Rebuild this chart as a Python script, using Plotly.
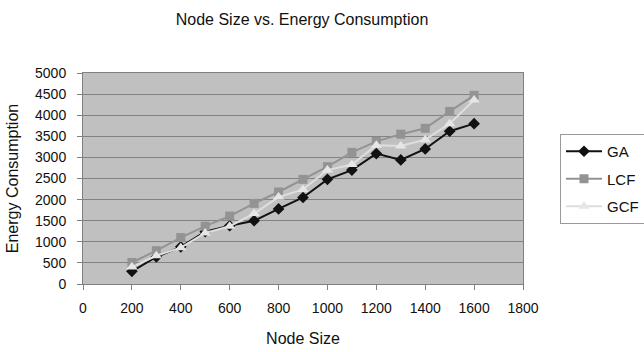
import plotly.graph_objects as go

node_size = [200, 300, 400, 500, 600, 700, 800, 900, 1000, 1100, 1200, 1300, 1400, 1500, 1600]
ga  = [300, 640, 880, 1240, 1380, 1500, 1780, 2050, 2480, 2700, 3090, 2940, 3200, 3620, 3800]
lcf = [510, 790, 1100, 1370, 1610, 1910, 2180, 2480, 2780, 3120, 3380, 3550, 3690, 4090, 4470]
gcf = [400, 670, 860, 1210, 1370, 1670, 2060, 2240, 2700, 2830, 3290, 3270, 3420, 3800, 4360]

FONT = "Liberation Sans, Arial, sans-serif"

fig = go.Figure()
fig.add_trace(go.Scatter(x=node_size, y=ga, name="GA", mode="lines+markers", legendgroup="g1",
                         line=dict(color="#111111", width=2),
                         marker=dict(symbol="diamond", size=9, color="#111111")))
fig.add_trace(go.Scatter(x=node_size, y=lcf, name="LCF", mode="lines+markers", legendgroup="g2",
                         line=dict(color="#939393", width=2),
                         marker=dict(symbol="square", size=9, color="#939393")))
fig.add_trace(go.Scatter(x=node_size, y=gcf, name="GCF", mode="lines+markers", legendgroup="g3",
                         line=dict(color="#dedede", width=2),
                         marker=dict(symbol="triangle-up", size=10, color="#e6e6e6")))

fig.update_layout(
    width=644, height=352,
    margin=dict(l=83, r=121, t=73, b=68, autoexpand=False),
    paper_bgcolor="white", plot_bgcolor="#c0c0c0",
    font=dict(family=FONT, size=14, color="#111111"),
    title=dict(text="Node Size vs. Energy Consumption", x=302/644, xanchor="center",
               y=1 - 19/352, yanchor="middle", font=dict(size=16, color="#111111")),
    showlegend=True,
    legend=dict(x=(560 - 83) / 440, xanchor="left", y=(284 - 134) / 211, yanchor="top",
                bordercolor="#9a9a9a", borderwidth=1, bgcolor="white",
                tracegroupgap=5, traceorder="grouped", itemwidth=36,
                font=dict(size=15, color="#111111")),
)
fig.update_xaxes(range=[0, 1800], dtick=200, tick0=0, showgrid=False, zeroline=False,
                 ticks="outside", ticklen=5, tickcolor="#808080",
                 showline=True, linecolor="#808080", mirror=True, linewidth=1,
                 ticklabelstandoff=6,
                 title=dict(text="Node Size", standoff=18, font=dict(size=16)),
                 tickfont=dict(size=14))
fig.update_yaxes(range=[0, 5000], dtick=500, tick0=0, showgrid=True, gridcolor="#828282",
                 gridwidth=1, zeroline=False,
                 ticks="outside", ticklen=5, tickcolor="#808080",
                 showline=True, linecolor="#808080", mirror=True, linewidth=1,
                 ticklabelstandoff=8,
                 title=dict(text="Energy Consumption", standoff=12, font=dict(size=16)),
                 tickfont=dict(size=14))

fig.write_html("out.html")
